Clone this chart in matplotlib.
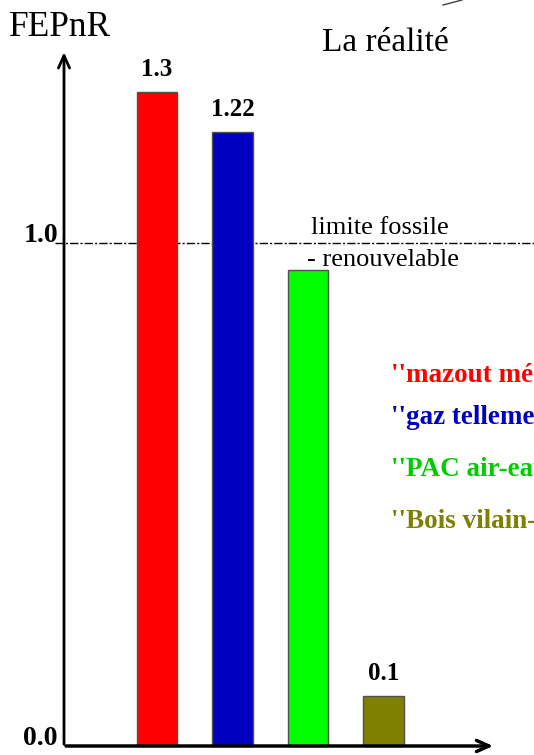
import matplotlib.pyplot as plt

plt.rcParams['font.family'] = ['Liberation Serif', 'DejaVu Serif']

# data
values = [1.3, 1.22, 0.946, 0.1]
value_labels = ['1.3', '1.22', '', '0.1']
colors = ['#ff0000', '#0000c0', '#00ff00', '#808000']
legend_texts = ["''mazout mé", "''gaz tellemen", "''PAC air-eau", "''Bois vilain-p"]
legend_colors = ['#ff0000', '#0000c0', '#00cc00', '#808000']
yticks = [0.0, 1.0]

W, H = 534, 755
fig = plt.figure(figsize=(W / 100, H / 100), dpi=100)
ax = fig.add_axes([0, 0, 1, 1])
ax.axis('off')

# pixel layout: bar 0 centred at x=157, step 75.5 px; y=0 at 746 px, 1 unit = 503 px
ax.set_xlim(-157 / 75.5, (W - 157) / 75.5)
ax.set_ylim(-(H - 746) / 503, 746 / 503)

xs = range(len(values))
ax.bar(xs, values, width=0.53, color=colors, edgecolor='#505050', linewidth=1, zorder=2)

for x, v, lab in zip(xs, values, value_labels):
    if lab:
        ax.text(x, v + 0.022, lab, ha='center', va='bottom',
                fontsize=18, fontweight='bold')

# axes with arrows
yax = -93 / 75.5
ax.annotate('', xy=(yax, 1.385), xytext=(yax, -0.002),
            arrowprops=dict(arrowstyle='->,head_length=0.9,head_width=0.4', lw=2, color='black'))
ax.annotate('', xy=(4.49, 0), xytext=(yax - 0.01, 0),
            arrowprops=dict(arrowstyle='->,head_length=0.9,head_width=0.4', lw=2.5, color='black'),
            zorder=3)

# fossil / renewable limit
ax.plot([-102 / 75.5, (W - 157) / 75.5], [1.0, 1.0], color='black', lw=1,
        linestyle=(0, (6, 1.5, 1.5, 1.5)), zorder=1)

for t in yticks:
    ax.text(yax - 0.08, t + 0.015, f'{t:.1f}', ha='right', va='center',
            fontsize=20, fontweight='bold')

fig.text(9 / W, 1 - 27 / H, 'FEPnR', ha='left', va='center', fontsize=25.5)
fig.text(385 / W, 1 - 43 / H, 'La réalité', ha='center', va='center', fontsize=24)
fig.text(311 / W, 1 - 228 / H, 'limite fossile', ha='left', va='center', fontsize=19)
fig.text(307 / W, 1 - 260 / H, '- renouvelable', ha='left', va='center', fontsize=19)

legend_y = [375, 418, 470, 522]
for txt, c, y in zip(legend_texts, legend_colors, legend_y):
    fig.text(391 / W, 1 - y / H, txt, ha='left', va='center', color=c,
             fontsize=19.5, fontweight='bold')

# small fragment of an arrow at the top edge
fig.add_artist(plt.Line2D([443 / W, 462 / W], [1 - 5 / H, 1 - 0 / H],
                          color='#404040', lw=1))

fig.savefig('out.png', dpi=100)
